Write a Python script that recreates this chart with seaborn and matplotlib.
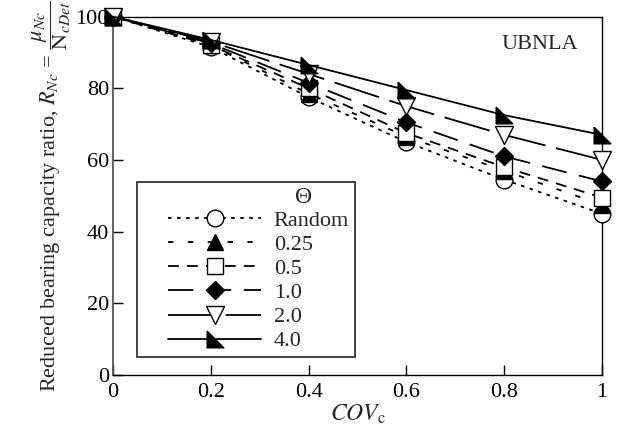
import matplotlib
matplotlib.use("Agg")
import matplotlib.pyplot as plt
from matplotlib.legend_handler import HandlerLine2D
from matplotlib.lines import Line2D
import seaborn as sns

# Coefficient of variation of cohesion
cov_c = [0.0, 0.2, 0.4, 0.6, 0.8, 1.0]

# Reduced bearing capacity ratio (%) for each correlation length Theta
r_random = [100, 91.5, 77.5, 65.0, 54.5, 45.0]
r_025 = [100, 92.0, 78.5, 66.5, 57.0, 47.5]
r_05 = [100, 92.0, 80.0, 67.5, 58.0, 49.5]
r_10 = [100, 92.5, 81.5, 70.5, 61.0, 54.0]
r_20 = [100, 93.0, 84.0, 75.0, 67.0, 60.0]
r_40 = [100, 93.5, 86.5, 79.5, 72.5, 67.0]

series_labels = ["Random", "0.25", "0.5", "1.0", "2.0", "4.0"]
x_ticks = [0, 0.2, 0.4, 0.6, 0.8, 1.0]
x_ticklabels = ["0", "0.2", "0.4", "0.6", "0.8", "1"]
y_ticks = [0, 20, 40, 60, 80, 100]
y_ticklabels = ["0", "20", "40", "60", "80", "100"]

sns.set_theme(style="white")
plt.rcParams["font.family"] = "serif"
plt.rcParams["font.serif"] = ["Liberation Serif", "DejaVu Serif"]
plt.rcParams["mathtext.fontset"] = "stix"

fig = plt.figure(figsize=(6.18, 4.37), dpi=100)
ax = fig.add_axes([0.183, 0.142, 0.791, 0.820])

# right-angled triangle marker (vertical left edge, horizontal base)
right_tri = [(-1, 1), (-1, -1), (1, -1), (-1, 1)]

styles = [
    dict(ls=(0, (2.0, 3.0)), marker="o", mfc="white", ms=12),
    dict(ls=(0, (3.0, 8.0)), marker="^", mfc="black", ms=12),
    dict(ls=(0, (6.0, 4.5)), marker="s", mfc="white", ms=11),
    dict(ls=(0, (14.0, 7.0)), marker="D", mfc="black", ms=9.5),
    dict(ls=(0, (26.0, 6.0)), marker="v", mfc="white", ms=12.5),
    dict(ls="-", marker=right_tri, mfc="black", ms=12),
]
values = [r_random, r_025, r_05, r_10, r_20, r_40]

for i, (vals, lab, st) in enumerate(zip(values, series_labels, styles)):
    sns.lineplot(
        x=cov_c, y=vals, ax=ax, color="black", linewidth=1.3,
        linestyle=st["ls"], marker=st["marker"], markersize=st["ms"],
        markerfacecolor=st["mfc"], markeredgecolor="black",
        markeredgewidth=1.0, label=lab, clip_on=False, zorder=3 + i,
    )

ax.set_xlim(0, 1)
ax.set_ylim(0, 100)
ax.set_xticks(x_ticks)
ax.set_xticklabels(x_ticklabels)
ax.set_yticks(y_ticks)
ax.set_yticklabels(y_ticklabels)
ax.tick_params(axis="both", direction="in", length=7, width=1, colors="black",
               labelsize=16, bottom=True, left=True, top=False, right=False)
ax.tick_params(axis="x", pad=6)
ax.tick_params(axis="y", pad=3)
for sp in ax.spines.values():
    sp.set_color("black")
    sp.set_linewidth(1.0)
    sp.set_visible(True)
ax.spines["left"].set_color("#555555")
ax.spines["left"].set_linewidth(1.3)

ax.set_xlabel(r"$COV_{\mathrm{c}}$", fontsize=17, labelpad=0)
ax.set_ylabel(r"Reduced bearing capacity ratio, $R_{Nc}$ = $\dfrac{\mu_{Nc}}{\mathrm{N}_{cDet}}$",
              fontsize=16, labelpad=2)

ax.text(0.873, 92.3, "UBNLA", fontsize=16, ha="center", va="center")

handles, labels = ax.get_legend_handles_labels()
leg = ax.legend(handles, labels, loc="lower left", bbox_to_anchor=(0.049, 0.05),
                borderaxespad=0, fontsize=16, handlelength=5.35,
                handletextpad=0.55, labelspacing=0.16, frameon=True,
                fancybox=False, edgecolor="black", title=" ",
                title_fontsize=16, borderpad=0.25,
                handler_map={Line2D: HandlerLine2D(xpad=1.15)})
leg.get_frame().set_linewidth(1.3)
ax.text(0.389, 49.6, "\u0398", fontsize=17, ha="center", va="center", zorder=20)

fig.savefig("out.png", dpi=100)
